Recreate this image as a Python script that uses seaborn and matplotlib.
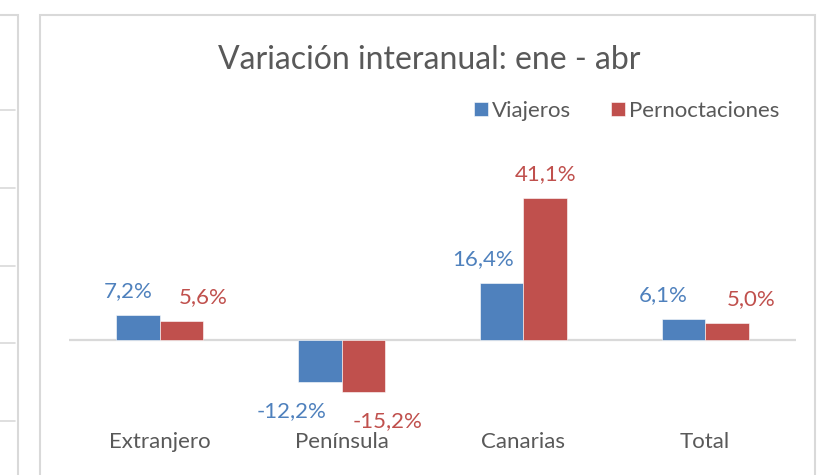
import matplotlib
matplotlib.use("Agg")
import matplotlib.pyplot as plt
from matplotlib.patches import Rectangle
from matplotlib.lines import Line2D
import seaborn as sns
import pandas as pd

# data
categories = ["Extranjero", "Península", "Canarias", "Total"]
viajeros = [7.2, -12.2, 16.4, 6.1]
pernoctaciones = [5.6, -15.2, 41.1, 5.0]
series = ["Viajeros", "Pernoctaciones"]

df = pd.DataFrame({
    "categoria": categories * 2,
    "serie": [series[0]] * 4 + [series[1]] * 4,
    "valor": viajeros + pernoctaciones,
})

BLUE = "#4F81BD"
RED = "#C0504D"
GRAY = "#595959"
BORDER = "#D9D9D9"
W, H = 819, 475

sns.set_theme(style="white")
plt.rcParams["font.family"] = ["Lato", "DejaVu Sans"]

fig = plt.figure(figsize=(W / 100, H / 100), dpi=100)

# plot area in pixel coords: x 69..796, y 150..425 (zero line at y=340)
px_per_pct = 3.45
top_px, bot_px, zero_px = 150, 425, 340
ax = fig.add_axes([69 / W, 1 - bot_px / H, 727 / W, (bot_px - top_px) / H])

sns.barplot(data=df, x="categoria", y="valor", hue="serie",
            palette=[BLUE, RED], saturation=1, width=0.48, gap=0, ax=ax,
            edgecolor="white", linewidth=0.4, legend=True)

ax.set_xlim(-0.5, 3.5)
ax.set_ylim(-(bot_px - zero_px) / px_per_pct, (zero_px - top_px) / px_per_pct)
ax.axhline(0, color=BORDER, lw=1.6, zorder=0)
for s in ax.spines.values():
    s.set_visible(False)
ax.set_yticks([])
ax.set_xlabel("")
ax.set_ylabel("")
ax.tick_params(axis="x", length=0, pad=5, labelsize=16, labelcolor=GRAY)
ax.patch.set_alpha(0)

# data labels (pixel offsets, Excel-style placement)
dx_blue = [-10, -28, -18, -20]
dx_red = [22, 24, 0, 24]
for vals, dxs, col, shift in [(viajeros, dx_blue, BLUE, -0.12), (pernoctaciones, dx_red, RED, 0.12)]:
    for i, (v, dx) in enumerate(zip(vals, dxs)):
        dy = 24 if v >= 0 else -29
        ax.annotate(f"{v:.1f}%".replace(".", ","), (i + shift, v),
                    xytext=(dx, dy), textcoords="offset pixels",
                    ha="center", va="center", color=col, fontsize=16)

# legend
handles, labels = ax.get_legend_handles_labels()
ax.legend(handles, labels, loc="center", bbox_to_anchor=(627 / W, 1 - 111 / H),
          bbox_transform=fig.transFigure, ncol=2, frameon=False,
          handlelength=0.6, handleheight=0.6, handletextpad=0.2,
          columnspacing=1.8, fontsize=16, labelcolor=GRAY)

fig.text(429 / W, 1 - 60 / H, "Variación interanual: ene - abr",
         ha="center", va="center", fontsize=23, color=GRAY)

# chart frames (main one and the neighbouring chart cut off at the left)
fig.add_artist(Rectangle((40 / W, -0.05), 775 / W, 1.05 - 15 / H,
                         transform=fig.transFigure, fill=False, ec=BORDER, lw=1.5))
fig.add_artist(Rectangle((-20 / W, -0.05), 38 / W, 1.05 - 15 / H,
                         transform=fig.transFigure, fill=False, ec=BORDER, lw=1.5))
for gy in [110, 188, 266, 343, 421]:
    fig.add_artist(Line2D([0, 15 / W], [1 - gy / H, 1 - gy / H],
                          transform=fig.transFigure, color=BORDER, lw=1.2))

fig.savefig("out.png", dpi=100)
